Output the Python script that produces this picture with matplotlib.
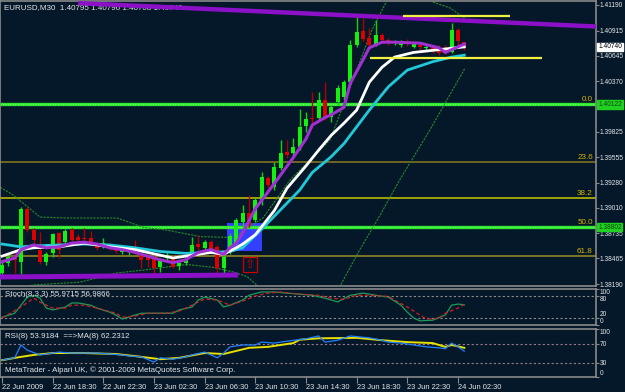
import matplotlib
matplotlib.use("Agg")
import matplotlib.pyplot as plt
from matplotlib.patches import Rectangle
import numpy as np

plt.rcParams['font.family'] = ['Liberation Sans', 'DejaVu Sans']

# ---- price bars, EURUSD M30, 22 Jun 14:30 .. 24 Jun 03:00 ----
opens = [1.3831, 1.3842, 1.3849, 1.3843, 1.3900, 1.3877, 1.3856, 1.3843, 1.3852, 1.3874,
         1.3864, 1.3877, 1.3870, 1.3869, 1.3869, 1.3862, 1.3859, 1.3861, 1.3859, 1.3853,
         1.3855, 1.3859, 1.3852, 1.3849, 1.3848, 1.3837, 1.3847, 1.3847, 1.3838, 1.3842,
         1.3853, 1.3862, 1.3858, 1.3864, 1.3859, 1.3836, 1.3853, 1.3863, 1.3886, 1.3895,
         1.3888, 1.3909, 1.3933, 1.3923, 1.3944, 1.3961, 1.3960, 1.3966, 1.3989, 1.3997,
         1.3997, 1.4017, 1.3999, 1.4015, 1.4020, 1.4036, 1.4076, 1.4091, 1.4083, 1.4076,
         1.4087, 1.4081, 1.4078, 1.4076, 1.4079, 1.4074, 1.4076, 1.4073, 1.4074, 1.4073,
         1.4073, 1.4068, 1.4092, 1.40795]
highs = [1.3843, 1.3851, 1.3856, 1.3902, 1.3902, 1.3879, 1.3875, 1.3853, 1.3874, 1.3875,
         1.3878, 1.3879, 1.3873, 1.3879, 1.3876, 1.3864, 1.3869, 1.3863, 1.3861, 1.3858,
         1.3859, 1.3866, 1.3856, 1.3853, 1.3850, 1.3847, 1.3853, 1.3850, 1.3843, 1.3848,
         1.3870, 1.3872, 1.3866, 1.3866, 1.3861, 1.3850, 1.3874, 1.3890, 1.3904, 1.3915,
         1.3911, 1.3939, 1.3935, 1.3950, 1.3974, 1.3974, 1.3976, 1.4007, 1.4004, 1.4025,
         1.4025, 1.4036, 1.4011, 1.4033, 1.4038, 1.4081, 1.4106, 1.4105, 1.4094, 1.4103,
         1.4089, 1.4083, 1.4081, 1.4081, 1.4082, 1.4079, 1.4078, 1.4076, 1.4076, 1.4076,
         1.4076, 1.4100, 1.4094, 1.40796]
lows = [1.3829, 1.3838, 1.3831, 1.3830, 1.3875, 1.3862, 1.3841, 1.3840, 1.3848, 1.3847,
        1.3861, 1.3864, 1.3864, 1.3863, 1.3863, 1.3856, 1.3858, 1.3856, 1.3852, 1.3851,
        1.3850, 1.3851, 1.3836, 1.3837, 1.3829, 1.3832, 1.3843, 1.3836, 1.3834, 1.3840,
        1.3852, 1.3856, 1.3856, 1.3853, 1.3831, 1.3829, 1.3851, 1.3861, 1.3880, 1.3880,
        1.3886, 1.3904, 1.3922, 1.3920, 1.3942, 1.3955, 1.3956, 1.3963, 1.3982, 1.3987,
        1.3995, 1.3995, 1.3993, 1.4011, 1.4017, 1.4033, 1.4074, 1.4080, 1.4074, 1.4075,
        1.4079, 1.4076, 1.4076, 1.4074, 1.4075, 1.4073, 1.4071, 1.4071, 1.4067, 1.4065,
        1.4066, 1.4067, 1.4073, 1.40708]
closes = [1.3840, 1.3848, 1.3845, 1.3900, 1.3877, 1.3866, 1.3843, 1.3851, 1.3873, 1.3856,
          1.3876, 1.3866, 1.3866, 1.3867, 1.3864, 1.3858, 1.3863, 1.3858, 1.3855, 1.3857,
          1.3858, 1.3852, 1.3845, 1.3845, 1.3836, 1.3845, 1.3850, 1.3837, 1.3842, 1.3845,
          1.3861, 1.3859, 1.3864, 1.3856, 1.3836, 1.3848, 1.3871, 1.3888, 1.3895, 1.3882,
          1.3909, 1.3934, 1.3925, 1.3945, 1.3960, 1.3958, 1.3966, 1.3988, 1.3996, 1.3996,
          1.4017, 1.3999, 1.4009, 1.4030, 1.4036, 1.4076, 1.4090, 1.4082, 1.4076, 1.4087,
          1.4081, 1.4078, 1.4079, 1.4079, 1.4077, 1.4078, 1.4074, 1.4074, 1.4071, 1.4067,
          1.4068, 1.4092, 1.4080, 1.40740]

# ---- moving averages (at these bars) ----
purple_bars = [0, 2, 3, 5, 7, 9, 11, 13, 15, 17, 19, 21, 23, 25, 27, 29, 31, 33, 35, 36,
               37, 38, 40, 43, 46, 48, 49, 51, 52, 54, 55, 57, 58, 60, 62, 66, 69, 70, 72, 73]
purple_ma = [1.3843, 1.3847, 1.3856, 1.3861, 1.3858, 1.3859, 1.3863, 1.3864, 1.3862, 1.3858,
             1.3856, 1.3853, 1.3849, 1.3845, 1.3842, 1.3845, 1.3853, 1.3856, 1.3851, 1.3858,
             1.3863, 1.3874, 1.3900, 1.3927, 1.3955, 1.3975, 1.3990, 1.3998, 1.4001, 1.4009,
             1.4035, 1.4060, 1.4073, 1.4079, 1.4079, 1.4078, 1.4073, 1.4068, 1.4074, 1.4077]
white_bars = [0, 3, 5, 9, 13, 17, 21, 25, 27, 29, 33, 35, 37, 38, 40, 43, 45, 48, 50, 52,
              54, 56, 58, 60, 62, 65, 69, 73]
white_ma = [1.3849, 1.3856, 1.3858, 1.3859, 1.3863, 1.3859, 1.3856, 1.3850, 1.3847, 1.3849,
            1.3853, 1.3851, 1.3858, 1.3862, 1.3872, 1.3898, 1.3922, 1.3946, 1.3963, 1.3979,
            1.3992, 1.4006, 1.4036, 1.4052, 1.4063, 1.4068, 1.4071, 1.4074]
cyan_bars = [0, 3, 5, 9, 13, 17, 21, 25, 29, 33, 36, 38, 41, 44, 47, 49, 52, 54, 58, 61,
             64, 68, 71, 73]
cyan_ma = [1.3862, 1.3859, 1.3860, 1.3861, 1.3862, 1.3861, 1.3858, 1.3854, 1.3852, 1.3853,
           1.3854, 1.3858, 1.3878, 1.3899, 1.3920, 1.3939, 1.3956, 1.3970, 1.4006, 1.4031,
           1.4049, 1.4058, 1.4063, 1.4065]

# ---- bollinger bands ----
upper_bars = [-0.3, 1.7, 6, 10.3, 18.2, 22.3, 26, 31.3, 36.5, 41.2, 45.5, 51.8, 55.4,
              58.4, 60.8, 62.0]
upper_band = [1.3923, 1.3915, 1.3891, 1.3890, 1.3890, 1.3880, 1.3877, 1.3870, 1.3869,
              1.3890, 1.3931, 1.3974, 1.4038, 1.4092, 1.4124, 1.4135]
upper2_bars = [67.5, 68.1, 70.7, 73.1]
upper2_band = [1.4130, 1.4122, 1.4116, 1.4105]
lower_bars = [2.5, 4.9, 12.3, 18.2, 22.3, 29.2, 33.3, 36.5, 38.7, 40.7]
lower_band = [1.3813, 1.3818, 1.3821, 1.3831, 1.3834, 1.3840, 1.3837, 1.3832, 1.3827, 1.3815]
lower2_bars = [53.0, 56.5, 59.7, 62.8, 67.6, 69.6, 73.1]
lower2_band = [1.3812, 1.3856, 1.3893, 1.3931, 1.3985, 1.4009, 1.4051]

# ---- drawn objects ----
fib_levels = ["0.0", "23.6", "38.2", "50.0", "61.8"]
fib_prices = [1.40122, 1.39499, 1.39114, 1.38802, 1.38490]
top_trend_bars = [12.0, 95.0]
top_trend_prices = [1.4121, 1.40955]
low_trend_bars = [-0.4, 37.3]
low_trend_prices = [1.38266, 1.38287]
yellow_hi_bars = [63.3, 80.2]
yellow_hi_price = 1.41067
yellow_lo_bars = [58.1, 85.3]
yellow_lo_price = 1.40620
blue_box_bars = [35.5, 41.1]
blue_box_prices = [1.38545, 1.38846]
arrow_box_bars = [38.1, 40.3]
arrow_box_prices = [1.38319, 1.38481]

price_ticks = [1.41190, 1.40915, 1.40645, 1.40370, 1.39825, 1.39555, 1.39280,
               1.39010, 1.38735, 1.38465, 1.38190]
last_price = 1.40740

# ---- stochastic (8,3,3) ----
stoch_bars = [0, 2, 4, 5, 6, 7, 8, 10, 11, 12, 14, 15, 17, 18, 19, 21, 22, 24, 25, 27,
              28, 30, 31, 32, 34, 35, 36, 38, 39, 41, 43, 45, 47, 49, 51, 53, 55, 57, 59, 61,
              63, 64, 65, 66, 68, 70, 71, 72, 73]
stoch_main = [22, 33, 77, 82, 74, 47, 42, 50, 61, 61, 55, 47, 36, 28, 17, 28, 33, 33, 33, 33,
              42, 50, 69, 77, 69, 50, 55, 69, 82, 91, 91, 88, 85, 82, 74, 64, 82, 88, 82, 77,
              55, 36, 20, 12, 14, 28, 55, 58, 56]
signal_bars = [0, 3, 5, 6, 8, 10, 11, 13, 15, 18, 19, 21, 23, 26, 28, 30, 32, 34, 36, 38,
               40, 42, 44, 47, 50, 52, 54, 56, 58, 61, 62, 64, 66, 67, 69, 70, 72, 73]
stoch_signal = [20, 50, 74, 63, 47, 47, 55, 55, 47, 33, 22, 25, 33, 33, 39, 55, 72, 69, 55, 66,
                80, 88, 91, 85, 82, 74, 71, 82, 82, 79, 69, 50, 28, 17, 19, 33, 47, 57]

# ---- RSI(8) and its MA(8) ----
rsi_bars = [0, 2, 3, 4, 6, 8, 9, 11, 12, 14, 15, 17, 19, 20, 22, 24, 25, 27, 29, 30,
            32, 34, 35, 36, 38, 40, 41, 43, 45, 48, 50, 51, 53, 55, 58, 60, 61, 63, 65, 67,
            69, 70, 71, 72, 73]
rsi = [35, 40, 67, 56, 46, 50, 52, 50, 50, 50, 50, 48, 46, 44, 42, 31, 40, 37, 42, 46,
       52, 40, 50, 63, 67, 67, 73, 71, 75, 80, 86, 73, 77, 86, 82, 77, 73, 71, 67, 63,
       61, 59, 71, 63, 54]
rsi_ma_bars = [0, 3, 5, 8, 13, 18, 22, 25, 28, 32, 35, 39, 42, 46, 47, 50, 56, 60, 64, 68,
               70, 71, 73]
rsi_ma = [35, 42, 46, 50, 50, 48, 42, 37, 40, 50, 48, 61, 63, 71, 78, 81, 82, 77, 73, 71,
          63, 67, 61]

time_bars = [0, 8, 16, 24, 32, 40, 48, 56, 64, 72]
time_labels = ["22 Jun 2009", "22 Jun 18:30", "22 Jun 22:30", "23 Jun 02:30", "23 Jun 06:30",
               "23 Jun 10:30", "23 Jun 14:30", "23 Jun 18:30", "23 Jun 22:30", "24 Jun 02:30"]

BG = "#04182a"
FRAME = "#8a8a8a"
TXT = "#e6e6e6"
FS = 5.4
FS_PRICE = 4.8
W, H = 625, 392


def rect(x0, y0, x1, y1):
    return [x0 / W, 1 - y1 / H, (x1 - x0) / W, (y1 - y0) / H]


def style(a):
    a.set_facecolor(BG)
    for s in a.spines.values():
        s.set_color(FRAME)
        s.set_linewidth(1.2)
    a.yaxis.tick_right()
    a.tick_params(axis='y', direction='out', length=2, width=0.8, color=FRAME,
                  labelcolor=TXT, labelsize=FS_PRICE, pad=0.6)
    a.tick_params(axis='x', bottom=False, labelbottom=False)


fig = plt.figure(figsize=(6.25, 3.92), dpi=100)
fig.patch.set_facecolor(BG)

ax = fig.add_axes(rect(0, 1, 596, 286))
ax_st = fig.add_axes(rect(0, 288.7, 596, 325.3), sharex=ax)
ax_rsi = fig.add_axes(rect(0, 329.3, 596, 376.8), sharex=ax)
for a in (ax, ax_st, ax_rsi):
    style(a)

ax.set_xlim(-0.32, 93.8)
ax.set_ylim(1.38169, 1.41233)

# ---- main chart ----
ax.add_patch(Rectangle((blue_box_bars[0], blue_box_prices[0]),
                       blue_box_bars[1] - blue_box_bars[0],
                       blue_box_prices[1] - blue_box_prices[0],
                       facecolor="#3340ff", edgecolor="none", zorder=1))

fib_colors = ["#2ee82e", "#8c7a1e", "#c8c800", "#2ee82e", "#9c9020"]
for lvl, p, c in zip(fib_levels, fib_prices, fib_colors):
    if c == "#2ee82e":
        ax.axhline(p, color=c, lw=2.4, zorder=1.5)
        ax.axhline(p, color="#9cff9c", lw=0.6, ls=(0, (1, 2)), zorder=1.6)
    else:
        ax.axhline(p, color=c, lw=1.1, zorder=1.5)
    ax.text(93.3, p + 0.00012, lvl, color="#d4b400", fontsize=FS + 0.4, ha='right',
            va='bottom', zorder=6)

band_kw = dict(color="#2a8a2a", lw=0.8, ls=(0, (2, 1)), zorder=2)
ax.plot(upper_bars, upper_band, **band_kw)
ax.plot(upper2_bars, upper2_band, **band_kw)
ax.plot(lower_bars, lower_band, **band_kw)
ax.plot(lower2_bars, lower2_band, **band_kw)

bars = np.arange(len(opens))
o = np.array(opens)
c = np.array(closes)
up = c >= o
body_col = np.where(up, "#14f014", "#dc0000")
wick_col = np.where(up, "#14d014", "#b00000")
ax.vlines(bars, lows, highs, colors=wick_col, lw=1, zorder=3)
ax.bar(bars, np.maximum(np.abs(c - o), 0.00008), bottom=np.minimum(o, c),
       width=0.6, color=body_col, zorder=3.1)

ax.plot(cyan_bars, cyan_ma, color="#20c8d8", lw=2.0, zorder=4)
ax.plot(white_bars, white_ma, color="#ffffff", lw=2.0, zorder=4.1)
ax.plot(purple_bars, purple_ma, color="#a030d0", lw=2.2, zorder=4.2)

ax.plot(top_trend_bars, top_trend_prices, color="#8c10c8", lw=3.2, zorder=5,
        solid_capstyle='butt')
ax.plot(low_trend_bars, low_trend_prices, color="#8c10c8", lw=3.6, zorder=5,
        solid_capstyle='butt')
ax.hlines([yellow_hi_price, yellow_lo_price], [yellow_hi_bars[0], yellow_lo_bars[0]],
          [yellow_hi_bars[1], yellow_lo_bars[1]], color="#f0f040", lw=1.6, zorder=5)

ax.add_patch(Rectangle((arrow_box_bars[0], arrow_box_prices[0]),
                       arrow_box_bars[1] - arrow_box_bars[0],
                       arrow_box_prices[1] - arrow_box_prices[0],
                       facecolor="none", edgecolor="#d00000", lw=0.9, zorder=5))
ax.text(np.mean(arrow_box_bars), np.mean(arrow_box_prices), "\u21e7", color="#d00000",
        fontsize=9, ha='center', va='center', family=['DejaVu Sans'], zorder=5)

ax.set_yticks(price_ticks)
ax.set_yticklabels([f"{p:.5f}" for p in price_ticks])

ax.text(0.007, 0.988, "EURUSD,M30  1.40795 1.40796 1.40708 1.40740", color=TXT,
        fontsize=FS + 0.4, transform=ax.transAxes, ha='left', va='top', zorder=4.5)

ytr = ax.get_yaxis_transform()
ax.text(1.0035, last_price, "1.40740", color="black", fontsize=FS_PRICE, transform=ytr,
        va='center', ha='left', clip_on=False, zorder=7,
        bbox=dict(boxstyle="square,pad=0.1", fc="white", ec="white"))
for p in (fib_prices[0], fib_prices[3]):
    ax.text(1.0035, p, f"{p:.5f}", color="#0a4a0a", fontsize=FS_PRICE, transform=ytr,
            va='center', ha='left', clip_on=False, zorder=7,
            bbox=dict(boxstyle="square,pad=0.1", fc="#22d022", ec="#22d022"))

# ---- stochastic panel ----
ax_st.set_ylim(0, 100)
ax_st.axhline(80, color="#8c8c8c", lw=0.8, ls=(0, (2, 2)))
ax_st.axhline(20, color="#8c8c8c", lw=0.8, ls=(0, (2, 2)))
ax_st.plot(stoch_bars, stoch_main, color="#1f9a5a", lw=0.9)
ax_st.plot(signal_bars, stoch_signal, color="#d02020", lw=0.9, ls=(0, (3, 2)))
ax_st.set_yticks([100, 80, 20, 0])
ax_st.set_yticklabels(["100", "80", "20", "0"])
st_lab = ax_st.get_yticklabels()
st_lab[0].set_va('top')
st_lab[1].set_va('top')
st_lab[2].set_va('bottom')
st_lab[3].set_va('bottom')
ax_st.text(0.008, 0.93, "Stoch(8,3,3) 55.9715 56.9866", color=TXT, fontsize=FS + 0.3,
           transform=ax_st.transAxes, ha='left', va='top')

# ---- RSI panel ----
ax_rsi.set_ylim(0, 100)
ax_rsi.axhline(70, color="#9a7a8a", lw=0.8, ls=(0, (2, 2)))
ax_rsi.axhline(30, color="#9a7a7a", lw=0.8, ls=(0, (2, 2)))
ax_rsi.plot(rsi_ma_bars, rsi_ma, color="#e8e000", lw=1.4)
ax_rsi.plot(rsi_bars, rsi, color="#2080ff", lw=0.9)
ax_rsi.set_yticks([100, 70, 30, 0])
ax_rsi.set_yticklabels(["100", "70", "30", "0"])
rsi_lab = ax_rsi.get_yticklabels()
rsi_lab[0].set_va('top')
rsi_lab[3].set_va('bottom')
ax_rsi.text(0.008, 0.93, "RSI(8) 53.9184  ==>MA(8) 62.2312", color=TXT, fontsize=FS + 0.3,
            transform=ax_rsi.transAxes, ha='left', va='top')
ax_rsi.text(0.008, 0.06, "MetaTrader - Alpari UK, \u00a9 2001-2009 MetaQuotes Software Corp.",
            color=TXT, fontsize=FS + 0.3, transform=ax_rsi.transAxes, ha='left', va='bottom')

ax_rsi.set_xticks(time_bars)
ax_rsi.set_xticklabels(time_labels)
ax_rsi.tick_params(axis='x', bottom=True, labelbottom=True, direction='out', length=4,
                   width=0.8, color=FRAME, labelcolor=TXT, labelsize=FS, pad=1.5)
for lab in ax_rsi.get_xticklabels():
    lab.set_ha('left')

fig.savefig("out.png", dpi=100, facecolor=BG)
